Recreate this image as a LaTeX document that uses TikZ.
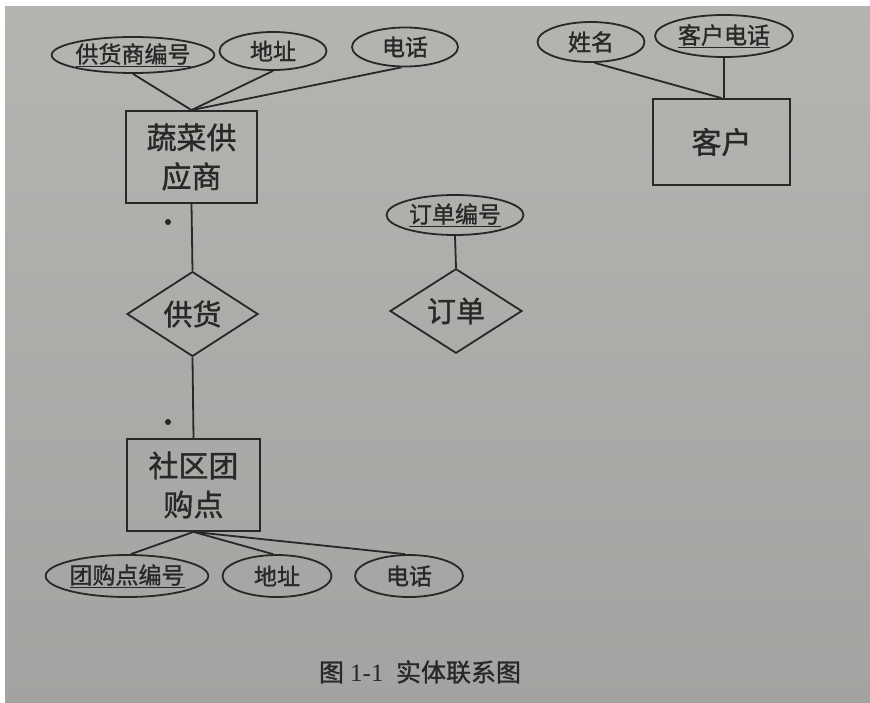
\documentclass[tikz,border=0pt]{standalone}
\usepackage{fontspec}
\setmainfont{Liberation Serif}
\newfontfamily\cjk[FakeBold=1.2]{Noto Sans CJK SC}
\usetikzlibrary{shapes.geometric}
\definecolor{paper}{RGB}{182,180,177}
\definecolor{paperdark}{RGB}{165,163,161}
\definecolor{ink}{RGB}{40,40,40}
\tikzset{
  attr/.style={draw=ink, line width=1.8pt, ellipse, inner sep=0pt, text=ink,
    font=\cjk\fontsize{23}{26}\selectfont},
  entity/.style={draw=ink, line width=1.8pt, rectangle, inner sep=0pt, text=ink,
    align=center, font=\cjk\fontsize{30}{39}\selectfont},
  rel/.style={draw=ink, line width=1.8pt, diamond, inner sep=0pt, text=ink,
    minimum width=131pt, minimum height=78pt, font=\cjk\fontsize{29}{32}\selectfont},
  conn/.style={draw=ink, line width=1.8pt},
}
\begin{document}
\begin{tikzpicture}[x=1pt,y=-1pt]
\useasboundingbox (0,0) rectangle (870,702);
\fill[white] (0,0) rectangle (870,702);
\shade[top color=paper, bottom color=paperdark] (5,6) rectangle (870,702);

% supplier
\node[entity, minimum width=131pt, minimum height=92pt] (s) at (191.5,157) {蔬菜供\\应商};
\node[attr, minimum width=157pt, minimum height=36pt] (a1) at (133,55) {\underline{供货商编号}};
\node[attr, minimum width=107pt, minimum height=38pt] (a2) at (273,51) {地址};
\node[attr, minimum width=106pt, minimum height=39pt] (a3) at (405,47) {电话};
\draw[conn] (a1.south) -- (s.north);
\draw[conn] (a2.south) -- (s.north);
\draw[conn] (a3.-100) -- (s.north);

% relationship supply
\node[rel] (r1) at (192.5,314) {供货};
\draw[conn] (s.south) -- (r1.north);
\fill[ink] (168,222) circle (3pt);
\fill[ink] (168,422) circle (3pt);

% community point
\node[entity, minimum width=133pt, minimum height=92pt] (t) at (193.5,485) {社区团\\购点};
\draw[conn] (r1.south) -- (t.north);
\node[attr, minimum width=159pt, minimum height=42pt] (b1) at (127,576) {\underline{团购点编号}};
\node[attr, minimum width=109pt, minimum height=42pt] (b2) at (277,576) {地址};
\node[attr, minimum width=108pt, minimum height=42pt] (b3) at (409,576) {电话};
\draw[conn] (t.south) -- (b1.80);
\draw[conn] (t.south) -- (b2.100);
\draw[conn] (t.south) -- (b3.100);

% order
\node[rel, minimum width=132pt] (r2) at (456,311) {订单};
\node[attr, minimum width=137pt, minimum height=40pt] (o1) at (455,215) {\underline{订单编号}};
\draw[conn] (o1.south) -- (r2.north);

% customer
\node[entity, minimum width=137pt, minimum height=86pt] (c) at (721.5,142) {客户};
\node[attr, minimum width=107pt, minimum height=40pt] (c1) at (591,42) {姓名};
\node[attr, minimum width=138pt, minimum height=42pt] (c2) at (724,36) {\underline{客户电话}};
\draw[conn] (c1.-80) -- (c.north);
\draw[conn] (c2.south) -- (c2.south |- c.north);

% caption
\node[text=ink, font=\fontsize{25}{28}\selectfont, inner sep=0pt] (cap) at (420,672)
  {{\cjk 图} 1-1\hspace{0.5em}{\cjk 实体联系图}};
\end{tikzpicture}
\end{document}
